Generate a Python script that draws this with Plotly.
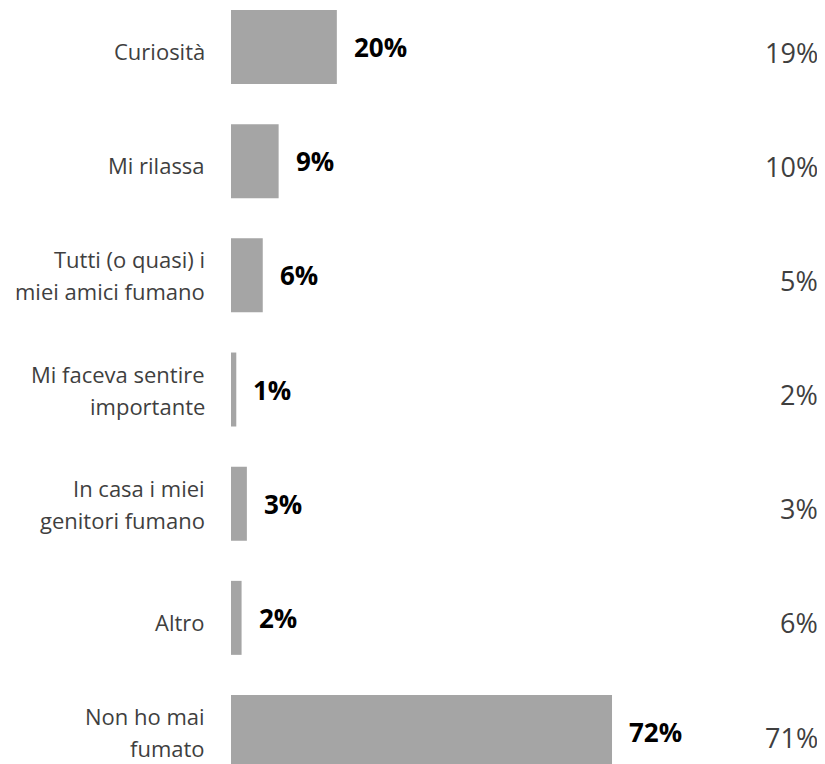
import plotly.graph_objects as go

# data
categories = [
    "Curiosità",
    "Mi rilassa",
    "Tutti (o quasi) i<br>miei amici fumano",
    "Mi faceva sentire<br>importante",
    "In casa i miei<br>genitori fumano",
    "Altro",
    "Non ho mai<br>fumato",
]
values = [20, 9, 6, 1, 3, 2, 72]
compare_values = [19, 10, 5, 2, 3, 6, 71]

ypos = list(range(len(categories)))
font_name = "Open Sans"

fig = go.Figure()
fig.add_trace(go.Bar(
    x=values,
    y=ypos,
    orientation="h",
    width=0.648,
    marker=dict(color="#a5a5a5", line=dict(width=0)),
    hoverinfo="skip",
))

# bold value labels just right of each bar
for y, v in zip(ypos, values):
    fig.add_annotation(
        x=v, y=y, xref="x", yref="y",
        text=f"<b>{v}%</b>", showarrow=False,
        xanchor="left", yanchor="middle",
        xshift=15,
        font=dict(family=font_name, size=26, color="#000000"),
    )

# category labels on the left, one annotation per line for wider line spacing
for y, cat in zip(ypos, categories):
    lines = cat.split("<br>")
    shifts = [-4] if len(lines) == 1 else [16, -16]
    for line, ys in zip(lines, shifts):
        fig.add_annotation(
            x=0, y=y, xref="paper", yref="y",
            text=line, showarrow=False,
            xanchor="right", yanchor="middle", align="right",
            xshift=-24, yshift=ys,
            font=dict(family=font_name, size=22, color="#3f3f3f"),
        )

# comparison column on the right
for y, v in zip(ypos, compare_values):
    fig.add_annotation(
        x=1, y=y, xref="paper", yref="y",
        text=f"{v}%", showarrow=False,
        xanchor="right", yanchor="middle",
        xshift=-5, yshift=-5,
        font=dict(family=font_name, size=27, color="#3f3f3f"),
    )

fig.update_layout(
    width=817, height=756,
    margin=dict(l=223, r=0, t=0, b=0),
    plot_bgcolor="white", paper_bgcolor="white",
    showlegend=False,
    xaxis=dict(range=[0, 112.25], visible=False, fixedrange=True),
    yaxis=dict(range=[6.28, -0.3416], visible=False, fixedrange=True),
)

fig.write_html("out.html")
